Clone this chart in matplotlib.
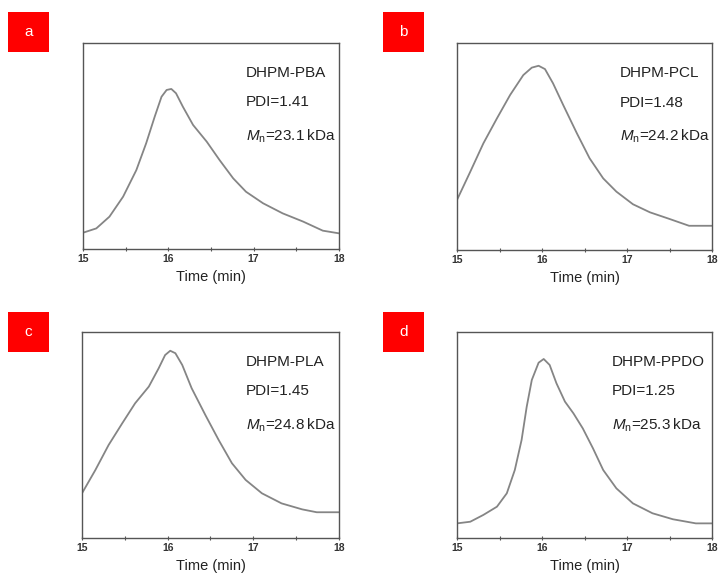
import numpy as np
import matplotlib
matplotlib.use("Agg")
import matplotlib.pyplot as plt
from matplotlib.patches import Rectangle

plt.rcParams['font.family'] = ['Liberation Sans', 'DejaVu Sans']
plt.rcParams['mathtext.fontset'] = 'custom'
plt.rcParams['mathtext.rm'] = 'Liberation Sans'
plt.rcParams['mathtext.it'] = 'Liberation Sans:italic'

# ---- data (normalized detector response vs elution time) ----
t_a = [15.0, 15.156, 15.31, 15.47, 15.625, 15.74, 15.84, 15.92, 15.98, 16.035, 16.09, 16.17, 16.29, 16.45, 16.60, 16.76, 16.91, 17.11, 17.34, 17.58, 17.81, 18.0]
v_a = [0.079, 0.100, 0.157, 0.254, 0.383, 0.513, 0.642, 0.739, 0.772, 0.777, 0.756, 0.691, 0.602, 0.521, 0.432, 0.343, 0.278, 0.222, 0.173, 0.133, 0.089, 0.076]

t_b = [15.0, 15.156, 15.31, 15.47, 15.625, 15.78, 15.88, 15.96, 16.035, 16.13, 16.25, 16.41, 16.56, 16.72, 16.875, 17.07, 17.27, 17.5, 17.73, 18.0]
v_b = [0.242, 0.378, 0.515, 0.636, 0.749, 0.845, 0.881, 0.890, 0.874, 0.805, 0.700, 0.564, 0.443, 0.346, 0.282, 0.221, 0.182, 0.150, 0.117, 0.117]

t_c = [15.0, 15.156, 15.31, 15.47, 15.62, 15.78, 15.895, 15.97, 16.03, 16.09, 16.17, 16.28, 16.44, 16.595, 16.75, 16.91, 17.10, 17.33, 17.57, 17.74, 18.0]
v_c = [0.217, 0.330, 0.451, 0.557, 0.654, 0.735, 0.824, 0.888, 0.909, 0.897, 0.840, 0.727, 0.597, 0.476, 0.363, 0.282, 0.217, 0.168, 0.139, 0.125, 0.125]

t_d = [15.0, 15.156, 15.31, 15.47, 15.586, 15.68, 15.76, 15.82, 15.88, 15.96, 16.02, 16.09, 16.17, 16.27, 16.37, 16.48, 16.60, 16.72, 16.875, 17.07, 17.30, 17.54, 17.81, 18.0]
v_d = [0.071, 0.079, 0.112, 0.152, 0.217, 0.330, 0.476, 0.637, 0.767, 0.851, 0.869, 0.840, 0.751, 0.662, 0.605, 0.532, 0.435, 0.330, 0.241, 0.168, 0.120, 0.091, 0.071, 0.071]

panel_letters = ['a', 'b', 'c', 'd']
sample_names = ['DHPM-PBA', 'DHPM-PCL', 'DHPM-PLA', 'DHPM-PPDO']
pdi_values = ['1.41', '1.48', '1.45', '1.25']
mn_values = ['23.1', '24.2', '24.8', '25.3']
x_ticks = [15, 16, 17, 18]
x_label = 'Time (min)'

series = [(t_a, v_a), (t_b, v_b), (t_c, v_c), (t_d, v_d)]

W, H = 718, 578
fig = plt.figure(figsize=(W / 100, H / 100), dpi=100)

# axes boxes in pixels: left, top, right, bottom
boxes = [(83, 43, 339, 249), (457, 43, 712, 250), (82, 332, 339, 538), (457, 332, 712, 538)]
red_boxes = [(8, 12, 49, 52), (383, 12, 424, 52), (8, 312, 49, 352), (383, 312, 424, 352)]
text_x = [0.637, 0.639, 0.637, 0.606]

for i in range(4):
    l, t, r, b = boxes[i]
    ax = fig.add_axes([l / W, 1 - b / H, (r - l) / W, (b - t) / H])
    tt, vv = series[i]
    ax.plot(tt, vv, color='#858585', lw=1.3, solid_joinstyle='round', solid_capstyle='round')
    ax.set_xlim(15, 18)
    ax.set_ylim(0, 1)
    ax.set_yticks([])
    ax.set_xticks(x_ticks)
    ax.set_xticklabels([str(x) for x in x_ticks], fontsize=7.5, fontweight='bold', color='#333333')
    ax.set_xticks([15.5, 16.5, 17.5], minor=True)
    ax.tick_params(axis='x', which='both', direction='inout', length=2.5, width=0.8, color='#555555', pad=2)
    for s in ax.spines.values():
        s.set_color('#555555')
        s.set_linewidth(1.0)
    ax.set_xlabel(x_label, fontsize=10.5, color='#222222', labelpad=5)
    tx = text_x[i]
    ax.text(tx, 0.855, sample_names[i], transform=ax.transAxes, fontsize=11, va='center', ha='left', color='#222222')
    ax.text(tx, 0.712, 'PDI=' + pdi_values[i], transform=ax.transAxes, fontsize=11, va='center', ha='left', color='#222222')
    ax.text(tx, 0.548, r'$M_{\mathrm{n}}$=' + mn_values[i] + '\u2009kDa', transform=ax.transAxes, fontsize=11,
            va='center', ha='left', color='#222222')

    rl, rt, rr, rb = red_boxes[i]
    fig.patches.append(Rectangle((rl / W, 1 - rb / H), (rr - rl) / W, (rb - rt) / H,
                                 transform=fig.transFigure, facecolor='#ff0000', edgecolor='none'))
    fig.text((rl + rr) / 2 / W, 1 - (rt + rb) / 2 / H, panel_letters[i], color='white', fontsize=11,
             ha='center', va='center')

fig.savefig('out.png', dpi=100, facecolor='white')
